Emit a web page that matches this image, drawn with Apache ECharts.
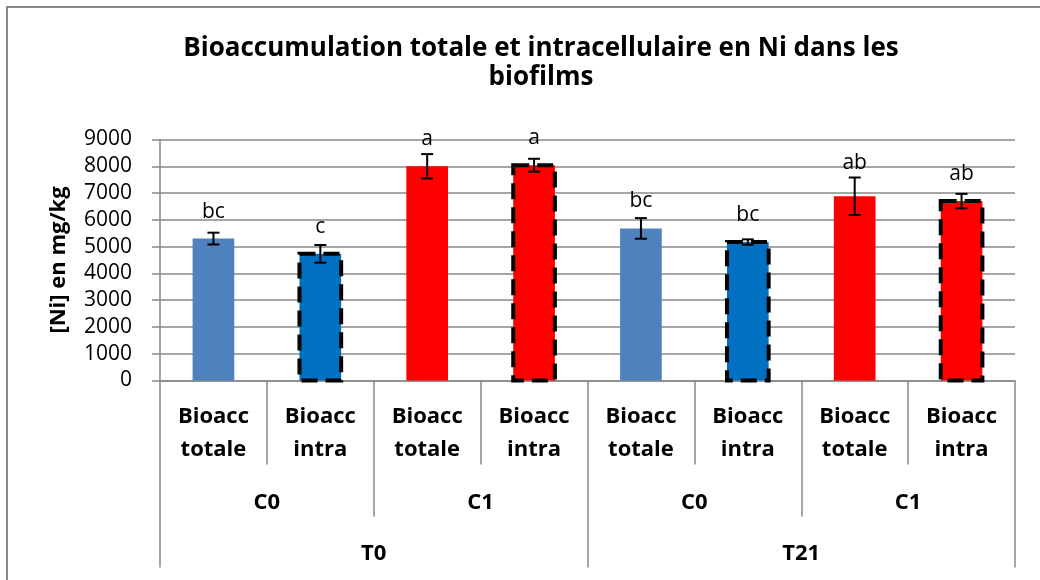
<!DOCTYPE html>
<html>
<head>
<meta charset="utf-8">
<script src="https://cdn.jsdelivr.net/npm/echarts@6/dist/echarts.min.js"></script>
<style>
  html, body { margin: 0; padding: 0; background: #fff; }
  #chart { width: 1040px; height: 580px; }
</style>
</head>
<body>
<div id="chart"></div>
<script>
// Three-level category axis: fraction / concentration / time
const fractions = ['Bioacc\ntotale', 'Bioacc\nintra', 'Bioacc\ntotale', 'Bioacc\nintra',
                   'Bioacc\ntotale', 'Bioacc\nintra', 'Bioacc\ntotale', 'Bioacc\nintra'];
const concentrations = ['C0', 'C1', 'C0', 'C1'];
const times = ['T0', 'T21'];

// Ni concentration (mg/kg), standard deviation and statistical group letters
const niValues = [5300, 4730, 8000, 8040, 5680, 5170, 6880, 6700];
const niErrors = [220, 330, 455, 240, 385, 100, 700, 270];
const groupLetters = ['bc', 'c', 'a', 'a', 'bc', 'bc', 'ab', 'ab'];

const yTicks = [0, 1000, 2000, 3000, 4000, 5000, 6000, 7000, 8000, 9000];

const FONT = '"Open Sans", sans-serif';
const GRAY = '#898989';
const BAR_RATIO = 0.39;

function isIntra(i) { return fractions[i].indexOf('intra') >= 0; }

function barColor(i) {
  const isC1 = concentrations[Math.floor(i / 2)] === 'C1';
  return isC1 ? '#FF0000' : (isIntra(i) ? '#0070C0' : '#4F81BD');
}

const barData = niValues.map((v, i) => ({ value: v, itemStyle: { color: barColor(i) } }));
const overlayData = niValues.map((v, i) => [i, v, v - niErrors[i], v + niErrors[i]]);

const chart = echarts.init(document.getElementById('chart'), null, { renderer: 'canvas' });

chart.setOption({
  animation: false,
  backgroundColor: '#fff',
  title: {
    text: 'Bioaccumulation totale et intracellulaire en Ni dans les\nbiofilms',
    left: 541,
    top: 34,
    padding: 0,
    textAlign: 'center',
    textStyle: { fontFamily: FONT, fontWeight: 'bold', fontSize: 26, lineHeight: 29, color: '#000' }
  },
  graphic: [{
    type: 'rect',
    shape: { x: 7, y: 7, width: 1060, height: 600 },
    style: { fill: 'none', stroke: '#8a8a8a', lineWidth: 2 },
    silent: true,
    z: 100
  }],
  grid: { left: 160, right: 25, top: 139.5, bottom: 199.5, containLabel: false },
  xAxis: [
    {
      type: 'category',
      data: fractions,
      position: 'bottom',
      axisLine: { show: true, lineStyle: { color: GRAY, width: 1.5 } },
      axisTick: { show: true, interval: 0, length: 84, lineStyle: { color: GRAY, width: 1.5 } },
      axisLabel: { interval: 0, margin: 20, fontFamily: FONT, fontWeight: 'bold', fontSize: 22, lineHeight: 33, color: '#000' },
      splitLine: { show: false }
    },
    {
      type: 'category',
      data: concentrations,
      position: 'bottom',
      axisLine: { show: false },
      axisTick: { show: true, interval: 0, length: 136, lineStyle: { color: GRAY, width: 1.5 } },
      axisLabel: { interval: 0, margin: 106, fontFamily: FONT, fontWeight: 'bold', fontSize: 22, lineHeight: 32, color: '#000' },
      splitLine: { show: false }
    },
    {
      type: 'category',
      data: times,
      position: 'bottom',
      axisLine: { show: false },
      axisTick: { show: true, interval: 0, length: 187, lineStyle: { color: GRAY, width: 1.5 } },
      axisLabel: { interval: 0, margin: 157, fontFamily: FONT, fontWeight: 'bold', fontSize: 22, lineHeight: 32, color: '#000' },
      splitLine: { show: false }
    }
  ],
  yAxis: {
    type: 'value',
    min: yTicks[0],
    max: yTicks[yTicks.length - 1],
    interval: yTicks[1] - yTicks[0],
    name: '[Ni] en mg/kg',
    nameLocation: 'middle',
    nameRotate: 90,
    nameGap: 90,
    nameTextStyle: { fontFamily: FONT, fontWeight: 'bold', fontSize: 22, color: '#000' },
    axisLine: { show: true, lineStyle: { color: GRAY, width: 1.5 } },
    axisTick: { show: true, length: 8, lineStyle: { color: GRAY, width: 1.5 } },
    axisLabel: { margin: 28, fontFamily: FONT, fontSize: 21, color: '#000', formatter: v => String(v) },
    splitLine: { show: true, lineStyle: { color: GRAY, width: 1.5 } }
  },
  series: [
    {
      type: 'bar',
      xAxisIndex: 0,
      data: barData,
      barWidth: (BAR_RATIO * 100) + '%',
      z: 2
    },
    {
      // dashed outline of the intracellular bars, error bars and group letters
      type: 'custom',
      xAxisIndex: 0,
      data: overlayData,
      z: 5,
      renderItem: function (params, api) {
        const i = api.value(0);
        const top = api.coord([i, api.value(1)]);
        const base = api.coord([i, 0]);
        const lo = api.coord([i, api.value(2)]);
        const hi = api.coord([i, api.value(3)]);
        const w = api.size([1, 0])[0] * BAR_RATIO;
        const cap = 6;
        const st = { stroke: '#000', lineWidth: 2 };
        const children = [];
        if (isIntra(params.dataIndex)) {
          children.push({
            type: 'rect',
            shape: { x: top[0] - w / 2, y: top[1], width: w, height: base[1] - top[1] },
            style: { fill: 'none', stroke: '#000', lineWidth: 4, lineDash: [16, 8] }
          });
        }
        children.push(
          { type: 'line', shape: { x1: hi[0], y1: hi[1], x2: lo[0], y2: lo[1] }, style: st },
          { type: 'line', shape: { x1: hi[0] - cap, y1: hi[1], x2: hi[0] + cap, y2: hi[1] }, style: st },
          { type: 'line', shape: { x1: lo[0] - cap, y1: lo[1], x2: lo[0] + cap, y2: lo[1] }, style: st }
        );
        const labelY = Math.min(top[1] - 27, hi[1] - 15);
        children.push({
          type: 'text',
          x: top[0],
          y: labelY,
          style: {
            text: groupLetters[params.dataIndex],
            fontFamily: FONT,
            fontSize: 21,
            fill: '#000',
            align: 'center',
            verticalAlign: 'middle'
          }
        });
        return { type: 'group', children: children };
      }
    }
  ]
});
</script>
</body>
</html>
